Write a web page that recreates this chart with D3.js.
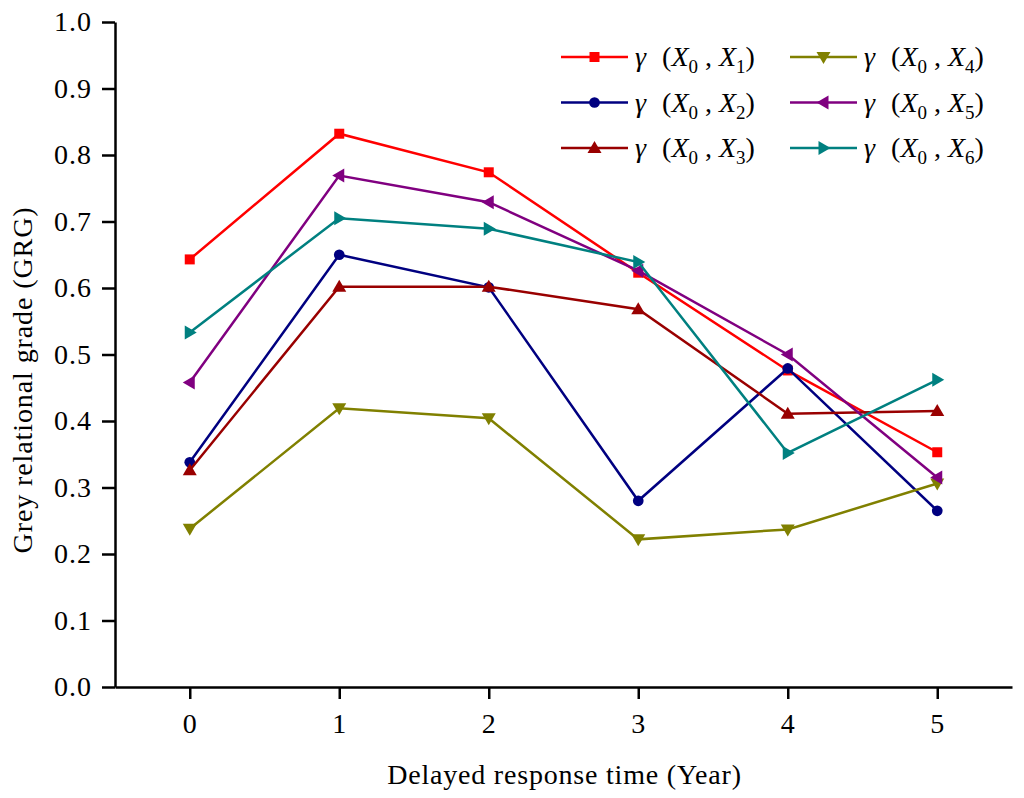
<!DOCTYPE html>
<html>
<head>
<meta charset="utf-8">
<script src="https://cdn.jsdelivr.net/npm/d3@7"></script>
</head>
<body style="margin:0">
<div id="chart"></div>
<script>
// delayed response time (years)
var years = [0, 1, 2, 3, 4, 5]
var yTicks = [0.0, 0.1, 0.2, 0.3, 0.4, 0.5, 0.6, 0.7, 0.8, 0.9, 1.0]

// grey relational grade of each factor X1..X6 against X0
var x1 = [0.643, 0.832, 0.774, 0.623, 0.476, 0.353]
var x2 = [0.338, 0.650, 0.601, 0.280, 0.479, 0.265]
var x3 = [0.326, 0.602, 0.602, 0.568, 0.411, 0.415]
var x4 = [0.238, 0.419, 0.404, 0.222, 0.237, 0.306]
var x5 = [0.458, 0.769, 0.729, 0.626, 0.500, 0.315]
var x6 = [0.533, 0.705, 0.689, 0.639, 0.352, 0.462]

var series = [
  {sub: '1', values: x1, color: '#ff0000', marker: 'square'},
  {sub: '2', values: x2, color: '#000080', marker: 'circle'},
  {sub: '3', values: x3, color: '#990000', marker: 'up'},
  {sub: '4', values: x4, color: '#808000', marker: 'down'},
  {sub: '5', values: x5, color: '#800080', marker: 'left'},
  {sub: '6', values: x6, color: '#008080', marker: 'right'}
]

var FONT = '"Liberation Serif"'
var width = 1024, height = 798
var margin = {top: 22, right: 12, bottom: 111, left: 115}

var svg = d3.select('#chart').append('svg')
  .attr('width', width)
  .attr('height', height)
  .style('font-family', FONT)

var x = d3.scaleLinear().domain([-0.5, 5.5]).range([margin.left, width - margin.right])
var y = d3.scaleLinear().domain([0, 1]).range([height - margin.bottom, margin.top])

// axes
svg.append('g')
  .attr('transform', 'translate(0,' + (height - margin.bottom) + ')')
  .call(d3.axisBottom(x).tickValues(years).tickFormat(d3.format('d')).tickSizeInner(12).tickSizeOuter(0).tickPadding(14))
svg.append('g')
  .attr('transform', 'translate(' + margin.left + ',0)')
  .call(d3.axisLeft(y).tickValues(yTicks).tickFormat(d3.format('.1f')).tickSizeInner(13).tickSizeOuter(0).tickPadding(10))

svg.selectAll('g').attr('font-family', null).attr('font-size', null)
svg.selectAll('.domain').attr('stroke', '#000').attr('stroke-width', 2.5)
svg.selectAll('.tick line').attr('stroke', '#000').attr('stroke-width', 2.5)
svg.selectAll('.tick text')
  .attr('fill', '#000')
  .style('font-family', FONT)
  .style('font-size', '28px')
  .style('letter-spacing', '1px')

svg.append('text')
  .attr('x', (margin.left + width - margin.right) / 2 + 1)
  .attr('y', 784)
  .attr('text-anchor', 'middle')
  .style('font-family', FONT)
  .style('font-size', '28px')
  .style('letter-spacing', '0.8px')
  .text('Delayed response time (Year)')

svg.append('text')
  .attr('transform', 'translate(32,380) rotate(-90)')
  .attr('text-anchor', 'middle')
  .style('font-family', FONT)
  .style('font-size', '28px')
  .style('letter-spacing', '0.9px')
  .text('Grey relational grade (GRG)')

function markerPath(type) {
  if (type === 'square') return 'M-5,-5H5V5H-5Z'
  if (type === 'circle') return d3.symbol().type(d3.symbolCircle).size(90)()
  if (type === 'up') return 'M0,-7L7,5H-7Z'
  if (type === 'down') return 'M0,7L7,-5H-7Z'
  if (type === 'left') return 'M-7,0L5,-7V7Z'
  return 'M7,0L-5,-7V7Z'
}

var line = d3.line()
  .x(function (d, i) { return x(years[i]) })
  .y(function (d) { return y(d) })

var groups = svg.selectAll('.series')
  .data(series)
  .enter().append('g')
  .attr('class', 'series')

groups.append('path')
  .attr('fill', 'none')
  .attr('stroke', function (d) { return d.color })
  .attr('stroke-width', 2.5)
  .attr('d', function (d) { return line(d.values) })

groups.each(function (s) {
  d3.select(this).selectAll('.pt')
    .data(s.values)
    .enter().append('path')
    .attr('class', 'pt')
    .attr('transform', function (d, i) { return 'translate(' + x(years[i]) + ',' + y(d) + ')' })
    .attr('d', markerPath(s.marker))
    .attr('fill', s.color)
})

// legend, two columns of three
var legend = svg.append('g')
legend.selectAll('.item')
  .data(series)
  .enter().append('g')
  .attr('class', 'item')
  .attr('transform', function (d, i) {
    var col = Math.floor(i / 3), row = i % 3
    return 'translate(' + (561 + col * 229) + ',' + (57 + row * 45.5) + ')'
  })
  .each(function (d) {
    var g = d3.select(this)
    g.append('line').attr('x1', 0).attr('x2', 67).attr('stroke', d.color).attr('stroke-width', 2.5)
    g.append('path').attr('transform', 'translate(33.5,0)').attr('d', markerPath(d.marker)).attr('fill', d.color)
    var t = g.append('text').attr('x', 74).attr('y', 9)
      .style('font-family', FONT).style('font-size', '28px')
    t.append('tspan').style('font-style', 'italic').text('γ')
    t.append('tspan').attr('dx', 16).text('(')
    t.append('tspan').style('font-style', 'italic').text('X')
    t.append('tspan').attr('dy', 7).style('font-size', '19px').text('0')
    t.append('tspan').attr('dy', -7).text(' , ')
    t.append('tspan').style('font-style', 'italic').text('X')
    t.append('tspan').attr('dy', 7).style('font-size', '19px').text(d.sub)
    t.append('tspan').attr('dy', -7).text(')')
  })
</script>
</body>
</html>
